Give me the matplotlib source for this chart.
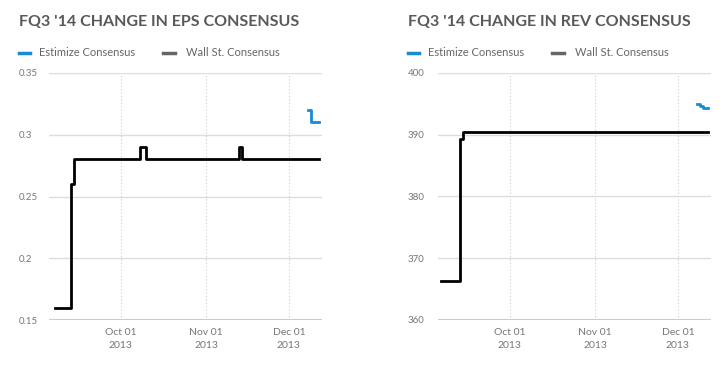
import matplotlib
matplotlib.use("Agg")
import matplotlib.pyplot as plt
import matplotlib.dates as mdates
from matplotlib.lines import Line2D
import numpy as np

plt.rcParams["font.family"] = ["Lato", "DejaVu Sans"]

# EPS consensus (step series, value holds until next date)
eps_wall_dates = ["2013-09-07", "2013-09-13", "2013-09-14", "2013-10-08",
                  "2013-10-10", "2013-11-13", "2013-11-14", "2013-12-12"]
eps_wall_vals = [0.16, 0.26, 0.28, 0.29, 0.28, 0.29, 0.28, 0.28]
eps_est_dates = ["2013-12-08", "2013-12-09", "2013-12-12"]
eps_est_vals = [0.32, 0.31, 0.31]

# Revenue consensus
rev_wall_dates = ["2013-09-06", "2013-09-13", "2013-09-14", "2013-12-12"]
rev_wall_vals = [366.3, 389.3, 390.4, 390.4]
rev_est_dates = ["2013-12-08", "2013-12-09", "2013-12-10", "2013-12-12"]
rev_est_vals = [395.0, 394.7, 394.3, 394.3]

eps_ticks = [0.15, 0.2, 0.25, 0.3, 0.35]
eps_ticklabels = ["0.15", "0.2", "0.25", "0.3", "0.35"]
rev_ticks = [360, 370, 380, 390, 400]
date_ticks = ["2013-10-01", "2013-11-01", "2013-12-01"]

BLUE = "#1a8ad4"
TEXT = "#58595b"
TICK = "#777777"

W, H = 722, 368
fig = plt.figure(figsize=(W / 100, H / 100), dpi=100)


def to_dt(d):
    return np.array(d, dtype="datetime64[D]").astype("O")


def make_panel(left_px, title, wall_d, wall_v, est_d, est_v, ticks, ticklabels, ylim):
    ax = fig.add_axes([left_px / W, 48 / H, 273 / W, 247 / H])
    ax.step(to_dt(wall_d), wall_v, where="post", color="black", lw=2.0, zorder=3)
    ax.step(to_dt(est_d), est_v, where="post", color=BLUE, lw=2.0, zorder=3)

    ax.set_xlim(to_dt(["2013-09-05"])[0], to_dt(["2013-12-13"])[0])
    ax.set_ylim(*ylim)
    ax.set_yticks(ticks)
    ax.set_yticklabels(ticklabels)
    ax.set_xticks(to_dt(date_ticks))
    ax.xaxis.set_major_formatter(mdates.DateFormatter("%b %d\n%Y"))

    for s in ax.spines.values():
        s.set_visible(False)
    ax.grid(axis="y", color="#dddddd", lw=1.0)
    ax.grid(axis="x", color="#cccccc", lw=0.8, ls=(0, (1, 2)))
    ax.axhline(ylim[0], color="#cccccc", lw=1.5, zorder=2)
    ax.set_axisbelow(True)

    ax.tick_params(axis="y", length=0, pad=21.6, labelsize=7, labelcolor=TICK)
    for lbl in ax.get_yticklabels():
        lbl.set_horizontalalignment("left")
    ax.tick_params(axis="x", length=0, pad=6, labelsize=7.5, labelcolor=TICK)
    for lbl in ax.get_xticklabels():
        lbl.set_linespacing(1.5)

    x0 = (left_px - 30) / W
    fig.text(x0, 1 - 22 / H, title, ha="left", va="center", fontsize=11.5,
             fontweight="bold", color=TEXT)
    y_leg = 1 - 53 / H
    fig.add_artist(Line2D([x0, x0 + 11 / W], [y_leg, y_leg], color=BLUE, lw=2.5,
                          transform=fig.transFigure))
    fig.text(x0 + 20 / W, y_leg, "Estimize Consensus", ha="left", va="center",
             fontsize=8, color="#666666")
    fig.add_artist(Line2D([x0 + 144 / W, x0 + 156 / W], [y_leg, y_leg], color="#666666",
                          lw=2.5, transform=fig.transFigure))
    fig.text(x0 + 167 / W, y_leg, "Wall St. Consensus", ha="left", va="center",
             fontsize=8, color="#666666")
    return ax


make_panel(49, "FQ3 '14 CHANGE IN EPS CONSENSUS", eps_wall_dates, eps_wall_vals,
           eps_est_dates, eps_est_vals, eps_ticks, eps_ticklabels, (0.15, 0.35))
make_panel(438, "FQ3 '14 CHANGE IN REV CONSENSUS", rev_wall_dates, rev_wall_vals,
           rev_est_dates, rev_est_vals, rev_ticks, [str(t) for t in rev_ticks], (360, 400))

fig.savefig("out.png", dpi=100)
